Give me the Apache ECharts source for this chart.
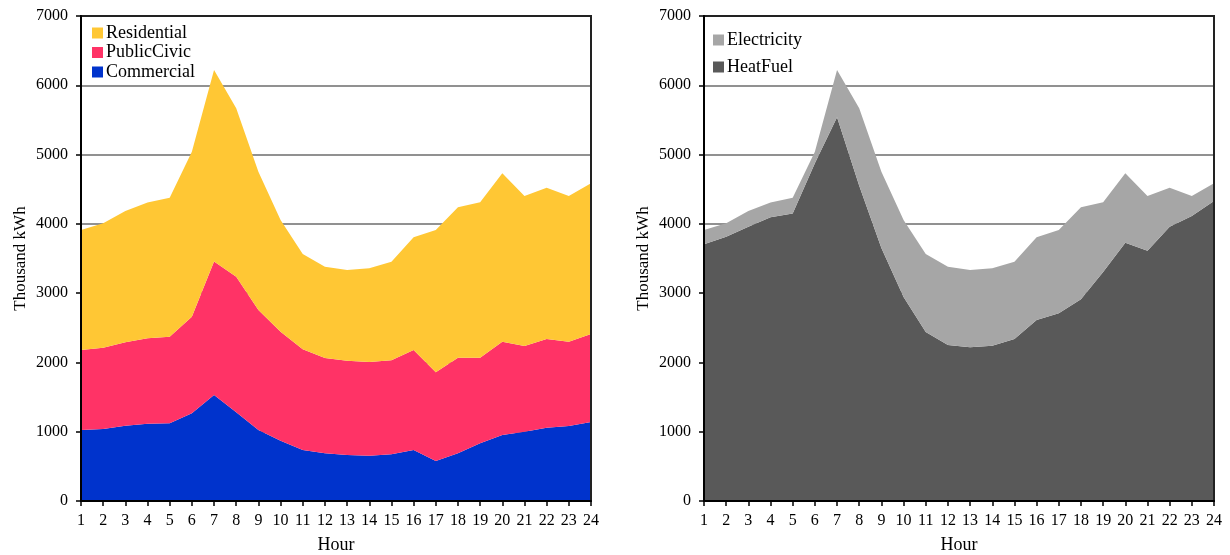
<!DOCTYPE html>
<html><head><meta charset="utf-8">
<script src="https://cdn.jsdelivr.net/npm/echarts@6/dist/echarts.min.js"></script>
<style>html,body{margin:0;padding:0;background:#fff}#c{width:1230px;height:555px}</style>
</head><body><div id="c"></div>
<script>
const hours = ['1','2','3','4','5','6','7','8','9','10','11','12','13','14','15','16','17','18','19','20','21','22','23','24'];
const commercial = [1025,1040,1087,1116,1121,1266,1530,1280,1025,870,736,688,664,654,674,736,577,688,832,953,1000,1058,1083,1140];
const publicCivic = [1154,1173,1203,1232,1251,1394,1925,1957,1732,1574,1454,1377,1361,1351,1356,1443,1280,1380,1236,1347,1237,1280,1217,1270];
const residential = [1732,1795,1896,1962,2006,2382,2765,2430,1996,1612,1375,1317,1309,1353,1424,1627,2054,2171,2243,2430,2165,2184,2102,2175];
const heatFuel = [3705,3815,3960,4095,4150,4875,5540,4550,3650,2945,2440,2250,2218,2242,2338,2612,2709,2911,3305,3728,3613,3960,4113,4330];
const electricity = [206,193,226,215,228,167,680,1117,1103,1111,1125,1132,1116,1116,1116,1194,1202,1328,1006,1002,789,562,289,255];
const yTicks = {min:0, max:7000, interval:1000};

const FONT = 'Liberation Serif';
const chart = echarts.init(document.getElementById('c'));
function xAxis(gi){
  return {type:'category', gridIndex:gi, data:hours, boundaryGap:false,
    name:'Hour', nameLocation:'middle', nameGap:35,
    nameTextStyle:{fontFamily:FONT, fontSize:18, color:'#000'},
    axisLine:{lineStyle:{color:'#000', width:2}},
    axisTick:{show:true, length:5, lineStyle:{color:'#000', width:1.5}},
    axisLabel:{fontFamily:FONT, fontSize:16, color:'#000', margin:12, interval:0},
    splitLine:{show:false}, z:10};
}
function yAxis(gi){
  return {type:'value', gridIndex:gi, position:'left', min:yTicks.min, max:yTicks.max, interval:yTicks.interval,
    name:'Thousand kWh', nameLocation:'middle', nameGap:52,
    nameTextStyle:{fontFamily:FONT, fontSize:17, color:'#000'},
    axisLine:{show:false},
    axisTick:{show:false},
    axisLabel:{fontFamily:FONT, fontSize:16, color:'#000', margin:13, formatter:v=>String(v)},
    splitLine:{show:true, lineStyle:{color:'#919191', width:2}}, z:0};
}
function yOverlay(gi){
  return {type:'value', gridIndex:gi, position:'left', offset:0, min:yTicks.min, max:yTicks.max, interval:yTicks.interval,
    axisLine:{show:true, onZero:false, lineStyle:{color:'#000', width:2}},
    axisTick:{show:true, length:5, lineStyle:{color:'#000', width:1.5}},
    axisLabel:{show:false}, splitLine:{show:false}, z:10};
}
function area(name, data, color, gi, stack){
  return {name, type:'line', xAxisIndex:gi, yAxisIndex:gi, stack, data,
    symbol:'none', lineStyle:{width:0}, areaStyle:{color, opacity:1}, itemStyle:{color}, z:2};
}
chart.setOption({
  animation:false,
  textStyle:{fontFamily:FONT},
  grid:[
    {left:81, right:639, top:16, bottom:54, show:true, borderColor:'#222', borderWidth:2, backgroundColor:'transparent', z:5, outerBoundsMode:'none', containLabel:false},
    {left:704, right:16, top:16, bottom:54, show:true, borderColor:'#222', borderWidth:2, backgroundColor:'transparent', z:5, outerBoundsMode:'none', containLabel:false}
  ],
  legend:[
    {data:['Residential','PublicCivic','Commercial'], orient:'vertical', left:87, top:19,
     itemWidth:11, itemHeight:11, itemGap:1.5, icon:'rect',
     textStyle:{fontFamily:FONT, fontSize:18, color:'#000', padding:[0,0,0,-2]}},
    {data:['Electricity','HeatFuel'], orient:'vertical', left:708, top:26,
     itemWidth:11, itemHeight:11, itemGap:9, icon:'rect',
     textStyle:{fontFamily:FONT, fontSize:18, color:'#000', padding:[0,0,0,-2]}}
  ],
  xAxis:[xAxis(0), xAxis(1)],
  yAxis:[yAxis(0), yAxis(1), yOverlay(0), yOverlay(1)],
  series:[
    area('Commercial', commercial, '#0033CC', 0, 'a'),
    area('PublicCivic', publicCivic, '#FF3366', 0, 'a'),
    area('Residential', residential, '#FFC734', 0, 'a'),
    area('HeatFuel', heatFuel, '#595959', 1, 'b'),
    area('Electricity', electricity, '#A6A6A6', 1, 'b')
  ]
});
</script></body></html>
